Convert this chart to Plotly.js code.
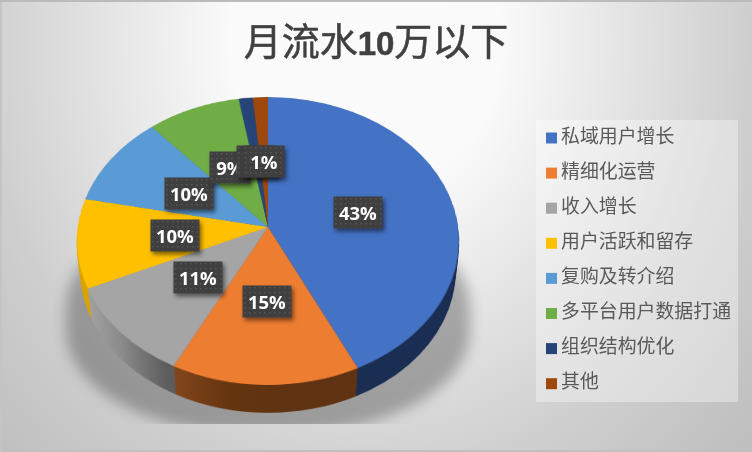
<!DOCTYPE html>
<html>
<head>
<meta charset="utf-8">
<script src="https://cdn.plot.ly/plotly-3.0.1.min.js"></script>
<style>
html,body{margin:0;padding:0;width:752px;height:452px;overflow:hidden;}
#stage{position:relative;width:752px;height:452px;overflow:hidden;
 background:radial-gradient(ellipse 450px 520px at 365px 40px,#fbfbfb 0%,#fafafa 30%,#cfcfcf 85%,#bcbcbc 120%);}
#edge{left:0;top:0;width:752px;height:452px;z-index:4;pointer-events:none;
 box-shadow:inset 0 2px 0 #bbbbbb, inset 2px 0 0 #c4c4c4, inset 0 -2px 0 #c0c0c0;}
#stage>div{position:absolute;}
#shadow{left:66px;top:205px;width:404px;height:228px;border-radius:45%;background:rgba(0,0,0,.28);filter:blur(7px);z-index:0;clip-path:inset(-30px -30px 9px -30px);}
.disc{width:400px;height:400px;transform-origin:200px 200px;left:68px;z-index:1;}
#top{top:27px;z-index:2;}
#chart{left:0;top:0;width:752px;height:452px;z-index:3;}
.annotation rect.bg{filter:drop-shadow(2px 3px 2px rgba(0,0,0,.5));}
.gtitle{stroke:#404040;stroke-width:0.5px;}
</style>
</head>
<body>
<div id="stage">
  <div id="chart"></div>
  <div id="shadow"></div>
  <div id="side" class="disc"></div>
  <div id="top" class="disc"></div>
  <div id="edge"></div>
</div>
<script>
const titleText = '<span style="font-family:\'Noto Sans CJK SC\'">月流水</span><span style="font-family:\'Liberation Sans\';font-size:33px;font-weight:bold">10</span><span style="font-family:\'Noto Sans CJK SC\'">万以下</span>';
const categories = ['私域用户增长','精细化运营','收入增长','用户活跃和留存','复购及转介绍','多平台用户数据打通','组织结构优化','其他'];
const values = [42.9, 14.6, 10.7, 10, 10.4, 8.7, 1.3, 1.4];
const colors = ['#4472C4','#ED7D31','#A5A5A5','#FFC000','#5B9BD5','#70AD47','#264478','#9E480E'];
const sideColors = ['#1A2D52','#6A3712','#808080','#D9A300','#3A6A96','#4A7530','#182C50','#6A300A'];

// tilted-disc geometry of the pie
const cx = 268, cy = 227, R = 190, H = 142.6, k = 0.0972, Rp = 190;
const topOffset = 27, sideDrop = 31, sideShrink = 0.02, steps = 28;

function pieTrace(cols){
  return [{type:'pie',values:values,labels:categories,sort:false,direction:'clockwise',rotation:0,
    marker:{colors:cols,line:{width:0}},textinfo:'none',hoverinfo:'skip',
    domain:{x:[0.025,0.975],y:[0.025,0.975]}}];
}
const pieLayout = {width:400,height:400,margin:{l:0,r:0,t:0,b:0},paper_bgcolor:'rgba(0,0,0,0)',showlegend:false};
const cfg = {displayModeBar:false,staticPlot:true};
const mat = s => `matrix3d(${s*R/Rp},0,0,0, 0,${s*H/Rp},0,${-k/Rp}, 0,0,1,0, 0,0,0,1)`;

const total = values.reduce((a,b)=>a+b,0);
let cum = 0;
const mids = values.map(v=>{const m=(cum+v/2)/total;cum+=v;return m*2*Math.PI;});
function project(a,r){
  const u=r*Math.sin(a), v=r*Math.cos(a), w=1+k*v;
  return [cx+R*u/w, cy-H*v/w];
}
const annotations = values.map((v,i)=>{
  const p=project(mids[i],0.49);
  const txt=Math.round(v/total*100)+'%';
  return {x:p[0],y:p[1]+1,xref:'x',yref:'y',text:'<b>'+txt+'</b>',showarrow:false,
    font:{family:'Open Sans',size:18.5,color:'#ffffff'},bgcolor:'#404040',
    borderpad:0,width:txt.length>2?48:40,height:31,align:'center',valign:'middle'};
});

const legendX = categories.map(()=>551.5);
const legendTextX = categories.map(()=>561);
const legendY = categories.map((c,i)=>138+35.1*i);
const legendMarks = {type:'scatter',mode:'markers',x:legendX,y:legendY,
  marker:{symbol:'square',size:11,color:colors},hoverinfo:'skip',cliponaxis:false};
const legendText = {type:'scatter',mode:'text',x:legendTextX,y:legendY,text:categories,
  textposition:'middle right',textfont:{family:'Noto Sans CJK SC',size:18.9,color:'#595959'},hoverinfo:'skip',cliponaxis:false};

const layout = {
  width:752,height:452,margin:{l:0,r:0,t:0,b:0},paper_bgcolor:'rgba(0,0,0,0)',plot_bgcolor:'rgba(0,0,0,0)',
  showlegend:false,
  title:{text:titleText,font:{size:38,color:'#404040',family:'Noto Sans CJK SC'},x:0.5,xanchor:'center',xref:'paper',
    y:0.907,yanchor:'middle'},
  xaxis:{range:[0,752],visible:false,fixedrange:true},
  yaxis:{range:[452,0],visible:false,fixedrange:true},
  shapes:[{type:'rect',xref:'x',yref:'y',x0:536,x1:738,y0:120,y1:402,fillcolor:'rgba(255,255,255,0.35)',line:{width:0},layer:'below'}],
  annotations:annotations
};

function addGradient(svg,id,stops,x1,x2){
  const ns='http://www.w3.org/2000/svg';
  let defs=svg.querySelector('defs');
  const g=document.createElementNS(ns,'linearGradient');
  g.setAttribute('id',id);g.setAttribute('gradientUnits','userSpaceOnUse');
  g.setAttribute('x1',x1);g.setAttribute('x2',x2);g.setAttribute('y1',0);g.setAttribute('y2',0);
  stops.forEach(s=>{const e=document.createElementNS(ns,'stop');e.setAttribute('offset',s[0]);e.setAttribute('stop-color',s[1]);g.appendChild(e);});
  defs.appendChild(g);
}

const topDiv=document.getElementById('top'), sideDiv=document.getElementById('side');
topDiv.style.transform=mat(1);
sideDiv.style.transform=mat(1-sideShrink);
sideDiv.style.top=(topOffset+sideDrop)+'px';

Promise.all([
  Plotly.newPlot('side',pieTrace(sideColors),pieLayout,cfg),
  Plotly.newPlot('top',pieTrace(colors),pieLayout,cfg),
  Plotly.newPlot('chart',[legendMarks,legendText],layout,cfg)
]).then(()=>{
  const sideSvg=document.querySelector('#side svg.main-svg');
  addGradient(sideSvg,'gGray',[[0,'#a8a8a8'],[0.5,'#8a8a8a'],[1,'#5c5c5c']],85-68,175-68);
  addGradient(sideSvg,'gOrange',[[0,'#87471c'],[0.5,'#64340f'],[1,'#5f3212']],175-68,290-68);
  const paths=document.querySelectorAll('#side .slice path');
  if(paths[2]) paths[2].style.fill='url(#gGray)';
  if(paths[1]) paths[1].style.fill='url(#gOrange)';

  // extrude the wall: stack copies of the wall disc between the bottom and the top face
  for(let i=steps-1;i>=1;i--){
    const t=i/steps;
    const c=sideDiv.cloneNode(true);
    c.removeAttribute('id');
    c.style.top=(topOffset+sideDrop*t)+'px';
    c.style.transform=mat(1-sideShrink*t);
    sideDiv.parentNode.insertBefore(c,topDiv);
  }

  const ns='http://www.w3.org/2000/svg';
  const svg=document.querySelector('#chart svg.main-svg');
  const defs=svg.querySelector('defs');
  const p=document.createElementNS(ns,'pattern');
  p.setAttribute('id','dots');p.setAttribute('width',5);p.setAttribute('height',5);p.setAttribute('patternUnits','userSpaceOnUse');
  const r=document.createElementNS(ns,'rect');r.setAttribute('width',5);r.setAttribute('height',5);r.setAttribute('fill','#3f3f3f');p.appendChild(r);
  const c=document.createElementNS(ns,'rect');c.setAttribute('x',2);c.setAttribute('y',2);c.setAttribute('width',1.5);c.setAttribute('height',1.5);c.setAttribute('fill','#555555');p.appendChild(c);
  defs.appendChild(p);
  document.querySelectorAll('#chart .annotation rect.bg').forEach(b=>{b.style.fill='url(#dots)';});
});
</script>
</body>
</html>
